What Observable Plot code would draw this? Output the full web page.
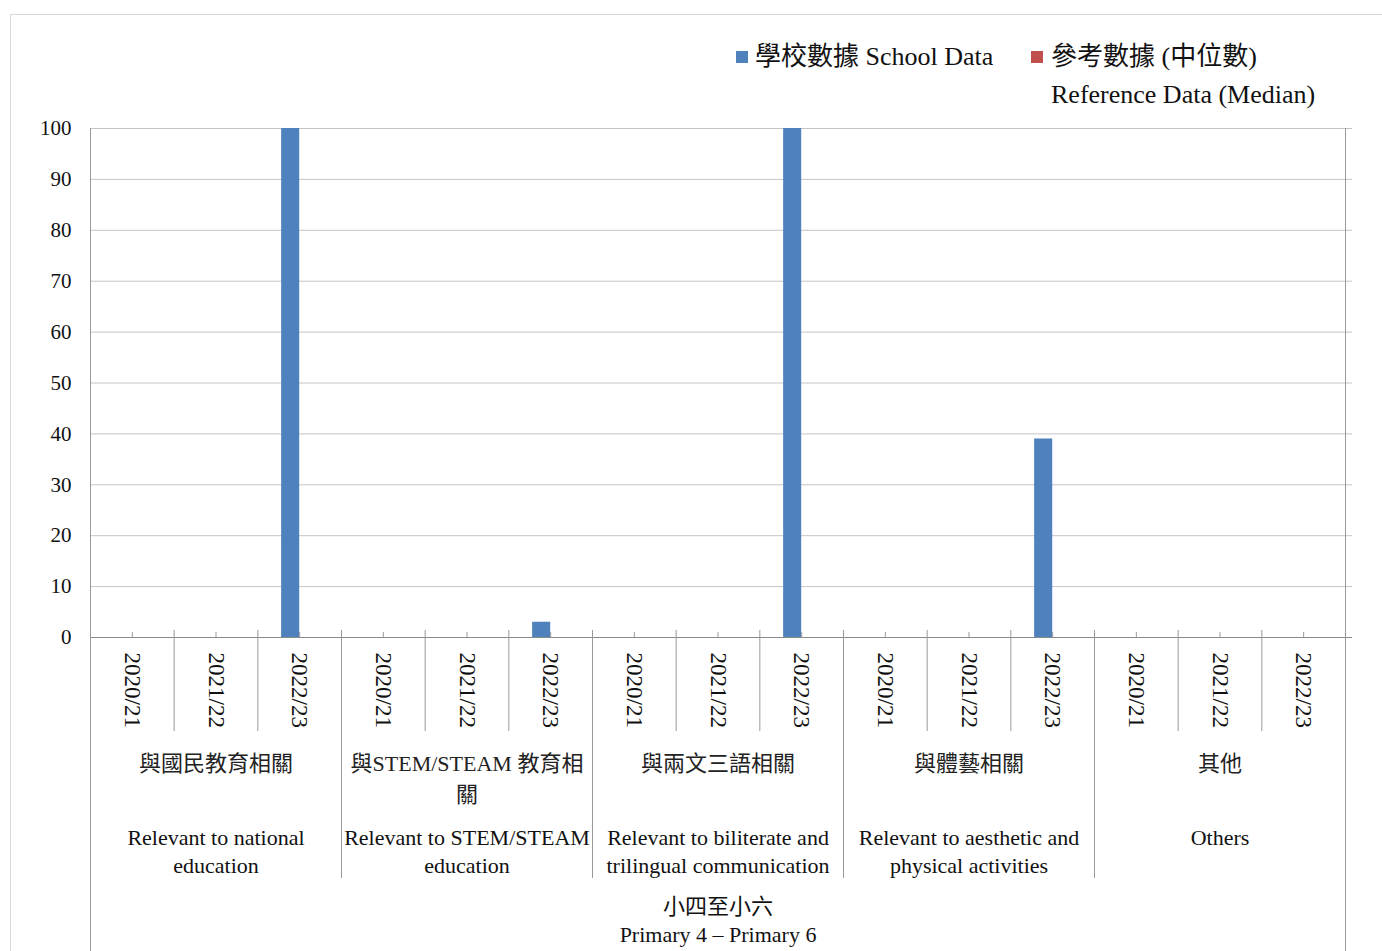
<!DOCTYPE html>
<html>
<head>
<meta charset="utf-8">
<script src="https://cdn.jsdelivr.net/npm/d3@7"></script>
<script src="https://cdn.jsdelivr.net/npm/@observablehq/plot@0.6"></script>
<style>
  html, body { margin: 0; padding: 0; background: #fff; overflow: hidden; }
  #wrap { position: relative; width: 1382px; height: 951px; }
  #frame { position: absolute; left: 10px; top: 14px; width: 1400px; height: 1000px; border: 1px solid #d9d9d9; box-sizing: border-box; pointer-events: none; }
  #chart { position: absolute; left: 0; top: 0; }
  .lg { position: absolute; font-family: "Liberation Serif", "Noto Sans CJK TC", serif; font-size: 26px; line-height: 38px; color: #111; white-space: nowrap; }
  .sw { position: absolute; width: 12px; height: 12px; }
</style>
</head>
<body>
<div id="wrap">
  <div id="frame"></div>
  <div id="chart"></div>
  <div id="legend"></div>
</div>
<script>
// ---- data ----
const years = ["2020/21", "2021/22", "2022/23"];
const groupsZh = ["與國民教育相關", "與STEM/STEAM 教育相\n關", "與兩文三語相關", "與體藝相關", "其他"];
const groupsEn = [
  "Relevant to national\neducation",
  "Relevant to STEM/STEAM\neducation",
  "Relevant to biliterate and\ntrilingual communication",
  "Relevant to aesthetic and\nphysical activities",
  "Others"
];
const levelLabel = "小四至小六\nPrimary 4 – Primary 6";
const schoolData    = [0, 0, 100, 0, 0, 3, 0, 0, 100, 0, 0, 39, 0, 0, 0];
const referenceData = [0, 0, 0,   0, 0, 0, 0, 0, 0,   0, 0, 0,  0, 0, 0];
const yTicks = [0, 10, 20, 30, 40, 50, 60, 70, 80, 90, 100];
const seriesNames = ["學校數據 School Data", "參考數據 (中位數)\nReference Data (Median)"];
const seriesColors = ["#4F81BD", "#C0504D"];

// ---- derived tables ----
const rows = [];
groupsZh.forEach((g, k) => years.forEach((y, j) => {
  const i = k * years.length + j;
  rows.push({i, yearIdx: j, year: y, school: schoolData[i], ref: referenceData[i]});
}));
const groupRows = groupsZh.map((zh, k) => ({mid: k * years.length + years.length / 2, zh, en: groupsEn[k]}));
const nCats = rows.length;
const yearBounds = rows.filter(r => r.yearIdx > 0).map(r => r.i);
const groupBounds = groupRows.map((_, k) => k * years.length).filter(v => v > 0);
const outerBounds = [0, nCats];

const font = '"Liberation Serif", "Noto Sans CJK TC", serif';
const zero = () => 0;

const plot = Plot.plot({
  width: 1382,
  height: 951,
  marginLeft: 90,
  marginRight: 37,
  marginTop: 128,
  marginBottom: 314,
  style: {fontFamily: font, fontSize: "22px", color: "#111", background: "transparent"},
  x: {type: "linear", domain: [0, nCats], axis: null},
  y: {domain: [0, 100], axis: null},
  marks: [
    Plot.ruleY(yTicks.filter(v => v > 0), {stroke: "#c4c4c4", insetRight: -7}),
    Plot.rectY(rows, {x1: "i", x2: d => d.i + 1, y: "school", fill: seriesColors[0], insetLeft: 23.8, insetRight: 41.8}),
    Plot.rectY(rows, {x1: "i", x2: d => d.i + 1, y: "ref", fill: seriesColors[1], insetLeft: 41.8, insetRight: 23.8}),
    Plot.ruleY([0], {stroke: "#8a8a8a", insetRight: -7}),
    Plot.ruleX(outerBounds, {y1: () => 100, y2: zero, insetBottom: -314, stroke: "#9a9a9a"}),
    Plot.ruleX(groupBounds, {y1: zero, y2: zero, insetTop: -7, insetBottom: -241, stroke: "#9a9a9a"}),
    Plot.ruleX(yearBounds, {y1: zero, y2: zero, insetTop: -7, insetBottom: -94, stroke: "#9a9a9a"}),
    Plot.ruleX(rows, {x: d => d.i + 0.5, y1: zero, y2: zero, insetTop: -5, insetBottom: 0, stroke: "#9a9a9a"}),
    Plot.axisY(yTicks, {tickSize: 0, tickPadding: 19, fontSize: 21, fill: "#111"}),
    Plot.text(rows, {x: d => d.i + 0.5, y: zero, text: "year", rotate: 90, textAnchor: "start", lineAnchor: "middle", dy: 15, fontSize: 23, fill: "#111"}),
    Plot.text(groupRows, {x: "mid", y: zero, text: "zh", lineAnchor: "top", lineHeight: 1.41, dy: 111, fontSize: 22, fill: "#222"}),
    Plot.text(groupRows, {x: "mid", y: zero, text: "en", lineAnchor: "top", lineHeight: 1.27, dy: 188, fontSize: 22, fill: "#111"}),
    Plot.text([levelLabel], {x: () => nCats / 2, y: zero, text: d => d, lineAnchor: "top", lineHeight: 1.3, dy: 256, fontSize: 22, fill: "#111"})
  ]
});
document.getElementById("chart").appendChild(plot);

// ---- legend ----
const legend = document.getElementById("legend");
const legendPos = [{sx: 736, tx: 755}, {sx: 1031, tx: 1051}];
seriesNames.forEach((name, k) => {
  const sw = document.createElement("div");
  sw.className = "sw";
  sw.style.left = legendPos[k].sx + "px";
  sw.style.top = "51px";
  sw.style.background = seriesColors[k];
  legend.appendChild(sw);
  const t = document.createElement("div");
  t.className = "lg";
  t.style.left = legendPos[k].tx + "px";
  t.style.top = "38px";
  t.innerHTML = name.split("\n").join("<br>");
  legend.appendChild(t);
});
</script>
</body>
</html>
